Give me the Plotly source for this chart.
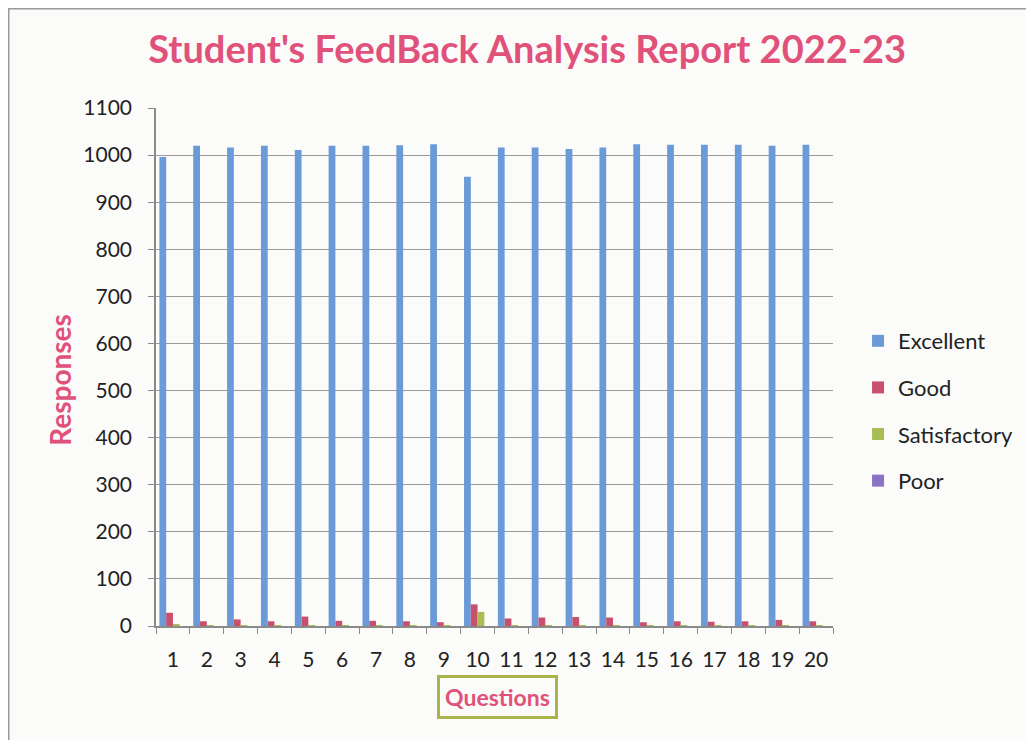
import plotly.graph_objects as go

questions = [str(i) for i in range(1, 21)]
excellent = [996, 1020, 1016, 1020, 1011, 1020, 1020, 1021, 1023, 954,
             1016, 1016, 1013, 1016, 1023, 1022, 1022, 1022, 1020, 1022]
good = [28, 10, 14, 10, 20, 11, 11, 10, 8, 46,
        16, 18, 19, 18, 8, 10, 9, 10, 13, 10]
satisfactory = [4, 1, 1, 1, 1, 1, 1, 1, 1, 30,
                1, 1, 1, 1, 1, 1, 1, 1, 1, 1]
poor = [0] * 20

series = [
    ("Excellent", excellent, "#6A9AD8"),
    ("Good", good, "#C9506C"),
    ("Satisfactory", satisfactory, "#A9BD55"),
    ("Poor", poor, "#8A72C4"),
]

fig = go.Figure()
for name, vals, col in series:
    fig.add_trace(go.Bar(x=questions, y=vals, name=name, marker_color=col,
                         marker_line_width=0, legendgroup=name))

font_main = "Lato, 'Open Sans', sans-serif"
fig.update_layout(
    width=1026, height=732,
    paper_bgcolor="#FBFBFA", plot_bgcolor="#FBFBFA",
    margin=dict(l=148, r=201, t=100, b=114),
    barmode="group", bargap=0.2, bargroupgap=0,
    font=dict(family=font_main, color="#222222"),
    title=dict(text="<b>Student's FeedBack Analysis Report 2022-23</b>",
               xref="container", yref="container",
               x=0.506, xanchor="center", y=0.943, yanchor="middle",
               font=dict(size=38, color="#E0527A", family=font_main)),
    legend=dict(x=1.037, y=0.415, xanchor="left", yanchor="middle",
                font=dict(size=22, color="#222222"), tracegroupgap=15,
                itemwidth=30, bgcolor="rgba(0,0,0,0)"),
    xaxis=dict(type="category", tickson="boundaries", ticks="outside",
               ticklen=6, tickcolor="#8A8A8A", showline=True,
               linecolor="#8A8A8A", linewidth=1.5, ticklabelstandoff=14,
               tickfont=dict(size=21, color="#222222"), showgrid=False),
    yaxis=dict(range=[0, 1100], dtick=100, ticks="outside", ticklen=6,
               tickcolor="#8A8A8A", showline=True, linecolor="#8A8A8A",
               linewidth=1.5, gridcolor="#9A9A9A", gridwidth=1,
               ticklabelstandoff=12,
               tickfont=dict(size=21, color="#222222"), zeroline=False),
    annotations=[
        dict(text="<b>Questions</b>", xref="paper", yref="paper",
             x=0.504, y=-0.137, xanchor="center", yanchor="middle",
             showarrow=False, font=dict(size=23, color="#E0527A"),
             bordercolor="#A8B44A", borderwidth=3, borderpad=5,
             bgcolor="#FBFBFA"),
        dict(text="<b>Responses</b>", xref="paper", yref="paper",
             x=-0.142, y=0.475, xanchor="center", yanchor="middle",
             textangle=-90, showarrow=False,
             font=dict(size=28, color="#E0527A")),
    ],
    shapes=[dict(type="rect", xref="paper", yref="paper",
                 x0=-0.2175, x1=1.4, y0=-0.3, y1=1.1915,
                 line=dict(color="#9A9A9A", width=1.5))],
)

fig.write_html("out.html")
